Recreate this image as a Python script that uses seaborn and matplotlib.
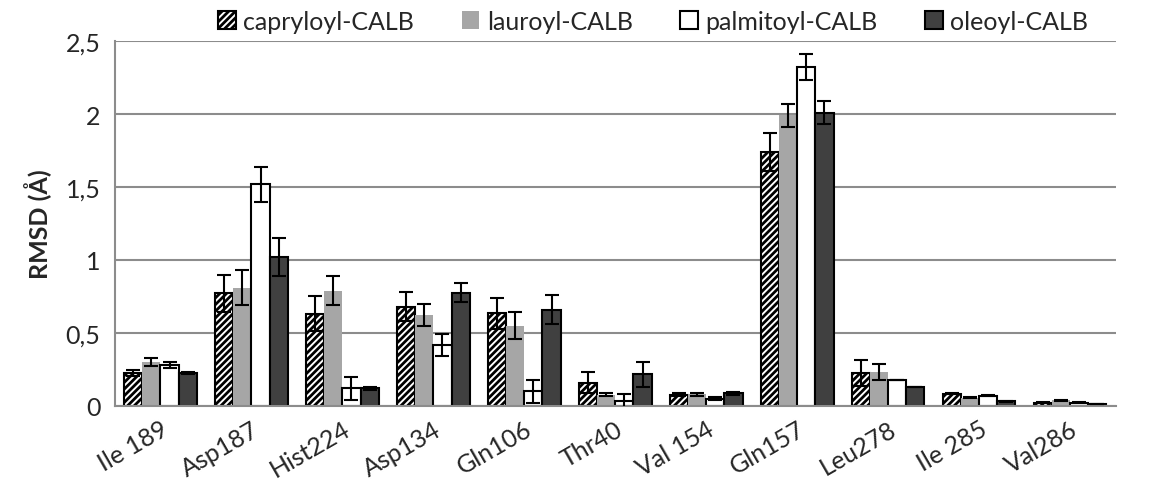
import pandas as pd
import matplotlib.pyplot as plt
import numpy as np
import seaborn as sns
from matplotlib.ticker import FuncFormatter

# residuos y series
residuos = ["Ile 189", "Asp187", "Hist224", "Asp134", "Gln106", "Thr40",
            "Val 154", "Gln157", "Leu278", "Ile 285", "Val286"]
series = ["capryloyl-CALB", "lauroyl-CALB", "palmitoyl-CALB", "oleoyl-CALB"]

capryloyl = [0.225, 0.77, 0.63, 0.68, 0.635, 0.16, 0.075, 1.74, 0.225, 0.083, 0.022]
lauroyl = [0.30, 0.81, 0.79, 0.62, 0.55, 0.075, 0.08, 1.99, 0.23, 0.055, 0.037]
palmitoyl = [0.28, 1.52, 0.12, 0.42, 0.10, 0.03, 0.05, 2.32, 0.175, 0.07, 0.02]
oleoyl = [0.225, 1.02, 0.12, 0.775, 0.66, 0.215, 0.085, 2.01, 0.13, 0.03, 0.012]

err_capryloyl = [0.02, 0.13, 0.12, 0.10, 0.105, 0.07, 0.01, 0.13, 0.09, 0.005, 0.003]
err_lauroyl = [0.03, 0.12, 0.10, 0.075, 0.095, 0.01, 0.01, 0.08, 0.055, 0.003, 0.005]
err_palmitoyl = [0.02, 0.12, 0.08, 0.075, 0.08, 0.05, 0.01, 0.09, 0.0, 0.003, 0.003]
err_oleoyl = [0.01, 0.13, 0.01, 0.065, 0.10, 0.085, 0.01, 0.08, 0.0, 0.003, 0.002]

valores = [capryloyl, lauroyl, palmitoyl, oleoyl]
errores = [err_capryloyl, err_lauroyl, err_palmitoyl, err_oleoyl]

df = pd.DataFrame({
    "Residuo": residuos * 4,
    "Serie": np.repeat(series, len(residuos)),
    "RMSD": np.concatenate(valores),
})

sns.set_style("white")
plt.rcParams["font.family"] = ["Lato", "DejaVu Sans"]
plt.rcParams["hatch.linewidth"] = 2.0

colores = ["white", "#a6a6a6", "white", "#404040"]

fig, ax = plt.subplots(figsize=(11.5, 4.89), dpi=100)
fig.subplots_adjust(left=0.1, right=0.97, top=0.914, bottom=0.168)

sns.barplot(data=df, x="Residuo", y="RMSD", hue="Serie", hue_order=series,
            palette=colores, errorbar=None, width=0.8, legend=False,
            linewidth=1.5, edgecolor="black", ax=ax, zorder=2)

barras = list(ax.containers)

# estilos por serie
for i, cont in enumerate(barras):
    for bar in cont:
        if i == 0:
            bar.set_hatch("/////")
        if i == 1:
            bar.set_edgecolor("#a6a6a6")
            bar.set_linewidth(0)
    xs = [b.get_x() + b.get_width() / 2 for b in cont]
    hs = [b.get_height() for b in cont]
    ax.errorbar(xs, hs, yerr=errores[i], fmt="none", ecolor="black",
                elinewidth=1.5, capsize=5, capthick=1.5, zorder=3)

ax.set_ylim(0, 2.5)
ax.set_xlim(-0.5, len(residuos) - 0.5)
ax.set_yticks([0, 0.5, 1, 1.5, 2, 2.5])
ax.yaxis.set_major_formatter(FuncFormatter(lambda v, p: f"{v:g}".replace(".", ",")))
ax.yaxis.grid(True, color="#8c8c8c", linewidth=1.5, zorder=0)
ax.set_axisbelow(True)

ax.set_xlabel("")
ax.set_ylabel("RMSD (Å)", fontsize=18, fontweight="bold", labelpad=10)
ax.set_xticks(range(len(residuos)))
ax.set_xticklabels(residuos, rotation=30, ha="right", rotation_mode="anchor", fontsize=18)
ax.set_xticks(np.arange(-0.5, len(residuos), 1), minor=True)
ax.tick_params(axis="x", which="major", length=0, pad=8)
ax.tick_params(axis="x", which="minor", length=7, width=1.5, color="#8c8c8c", direction="out")
ax.tick_params(axis="y", length=7, width=1.5, color="#8c8c8c", labelsize=18, direction="out")

for s in ["top", "right"]:
    ax.spines[s].set_visible(False)
for s in ["left", "bottom"]:
    ax.spines[s].set_color("#8c8c8c")
    ax.spines[s].set_linewidth(1.5)

fig.legend(handles=barras, labels=series, loc="center",
           bbox_to_anchor=(0.568, 0.955), ncol=4, frameon=False, fontsize=18,
           handlelength=0.7, handleheight=0.7, handletextpad=0.3, columnspacing=1.9)

plt.savefig("out.png")
